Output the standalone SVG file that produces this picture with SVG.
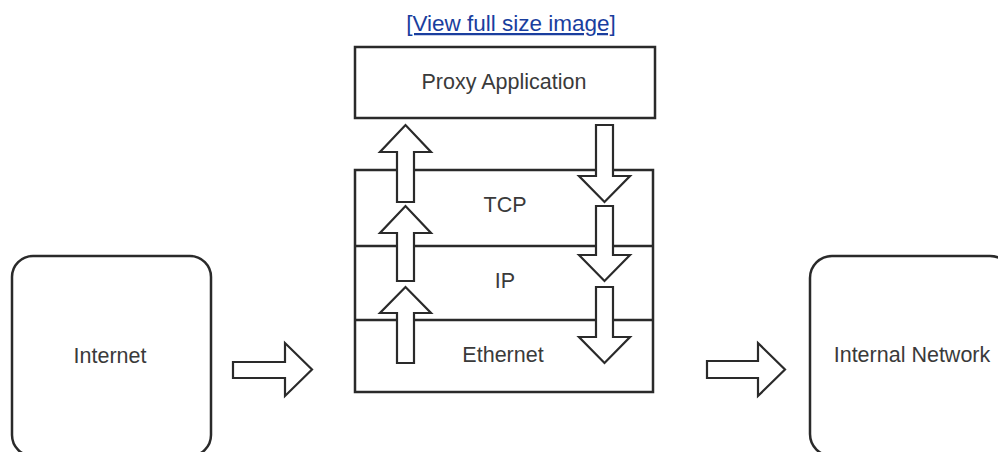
<svg xmlns="http://www.w3.org/2000/svg" width="998" height="452" viewBox="0 0 998 452">
<defs>
<style>
.box{fill:#fff;stroke:#2a2a2a;stroke-width:2.5}
.arr{fill:#fff;stroke:#2a2a2a;stroke-width:2.2;stroke-linejoin:miter}
.lbl{font-family:"Liberation Sans",Arial,sans-serif;font-size:21.5px;fill:#3a3a3a;text-anchor:middle}
.link{font-family:"Liberation Sans",Arial,sans-serif;font-size:22.5px;fill:#1a3e9e;text-anchor:middle;text-decoration:underline}
</style>
</defs>
<rect width="998" height="452" fill="#fff"/>
<text class="link" x="511" y="31">[View full size image]</text>
<g id="internet">
<rect class="box" x="12" y="256" width="199" height="200" rx="21"/>
<text class="lbl" x="110" y="363">Internet</text>
</g>
<g id="internal-network">
<rect class="box" x="810" y="256" width="202" height="200" rx="22"/>
<text class="lbl" x="912" y="362">Internal Network</text>
</g>
<g id="proxy-application">
<rect class="box" x="355" y="47" width="300" height="71"/>
<text class="lbl" x="504" y="89">Proxy Application</text>
</g>
<g id="stack">
<rect class="box" x="355" y="170" width="298" height="222"/>
<line class="box" x1="355" y1="246" x2="653" y2="246"/>
<line class="box" x1="355" y1="320" x2="653" y2="320"/>
</g>
<g id="tcp"><text class="lbl" x="505" y="212">TCP</text></g>
<g id="ip"><text class="lbl" x="505" y="288">IP</text></g>
<g id="ethernet"><text class="lbl" x="503" y="362">Ethernet</text></g>
<g id="connectors">
<polygon class="arr" points="233,362 285,362 285,343 312,369.5 285,396 285,378 233,378"/>
<polygon class="arr" points="707,361 758,361 758,343 785,369.5 758,396 758,378 707,378"/>
<polygon class="arr" points="397,202 397,152 380,152 405.5,125 431,152 414,152 414,202"/>
<polygon class="arr" points="397,281 397,233 380,233 405.5,206 431,233 414,233 414,281"/>
<polygon class="arr" points="397,363 397,313 380,313 405.5,287 431,313 414,313 414,363"/>
<polygon class="arr" points="596,125 613,125 613,176 630,176 604.5,202 579,176 596,176"/>
<polygon class="arr" points="596,206 613,206 613,255 630,255 604.5,281 579,255 596,255"/>
<polygon class="arr" points="596,287 613,287 613,337 630,337 604.5,363 579,337 596,337"/>
</g>
</svg>
